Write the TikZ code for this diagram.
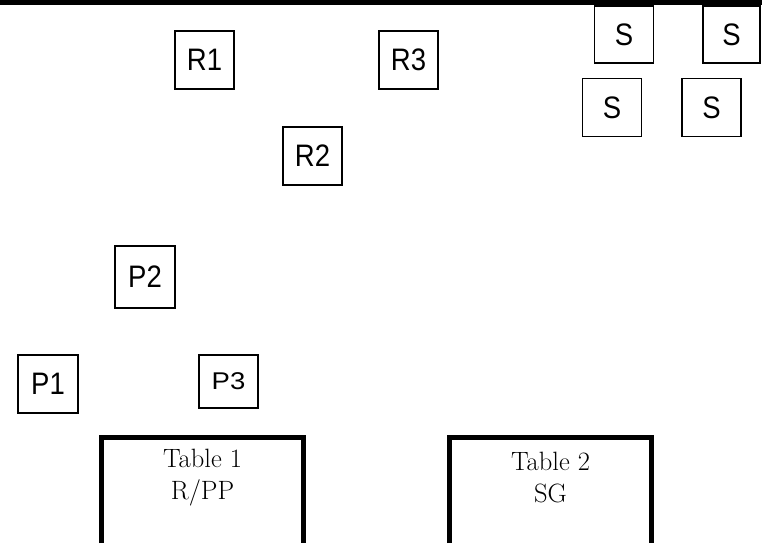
\documentclass[tikz,border=0pt]{standalone}
\usepackage{fontspec}
\newfontfamily\boxfont{Liberation Sans}
\usetikzlibrary{positioning}
\newcommand{\seatlabel}[2][1.13]{\scalebox{1}[#1]{#2}}

\tikzset{
  seat/.style={draw, rectangle, line width=1.8pt, inner sep=0pt,
    minimum width=59pt, minimum height=58pt, font=\boxfont\fontsize{27.5}{28}\selectfont},
  tablebox/.style={line width=5pt},
  tablelabel/.style={align=center, font=\fontsize{26.5}{32}\selectfont}
}

\begin{document}
\begin{tikzpicture}[x=1pt, y=-1pt]
    \useasboundingbox (0,0) rectangle (762,543);
    % Wall
    \fill (0,0) rectangle (762,5);
    % Nodes
    \node [seat] (r1) at (204.5,60) {\seatlabel{R1}};
    \node [seat] (r3) at (408.5,60) {\seatlabel{R3}};
    \node [seat] (r2) at (312.5,156) {\seatlabel{R2}};

    \node [seat, minimum height=57pt] (s1) at (624,34.5) {\seatlabel{S}};
    \node [seat, minimum width=57pt, minimum height=57pt] (s2) at (731.5,34.5) {\seatlabel{S}};
    \node [seat] (s3) at (612,107.5) {\seatlabel{S}};
    \node [seat] (s4) at (711.5,107.5) {\seatlabel{S}};

    \node [seat, minimum width=60pt, minimum height=62pt] (p2) at (145,277) {\seatlabel{P2}};
    \node [seat, minimum width=60pt] (p1) at (48,384) {\seatlabel{P1}};
    \node [seat, minimum height=53pt] (p3) at (228.5,381.5) {\seatlabel[0.88]{P3}};

    % Tables
    \node [tablelabel] (tab1) at (202.5,478) {Table 1\\R/PP};
    \node [tablelabel] (tab2) at (550.5,478) {Table 2\\SG};
    \draw [tablebox] (101.5,543) -- (101.5,437.5) -- (303.5,437.5) -- (303.5,543);
    \draw [tablebox] (449.5,543) -- (449.5,437.5) -- (651.5,437.5) -- (651.5,543);
  \end{tikzpicture}
\end{document}
